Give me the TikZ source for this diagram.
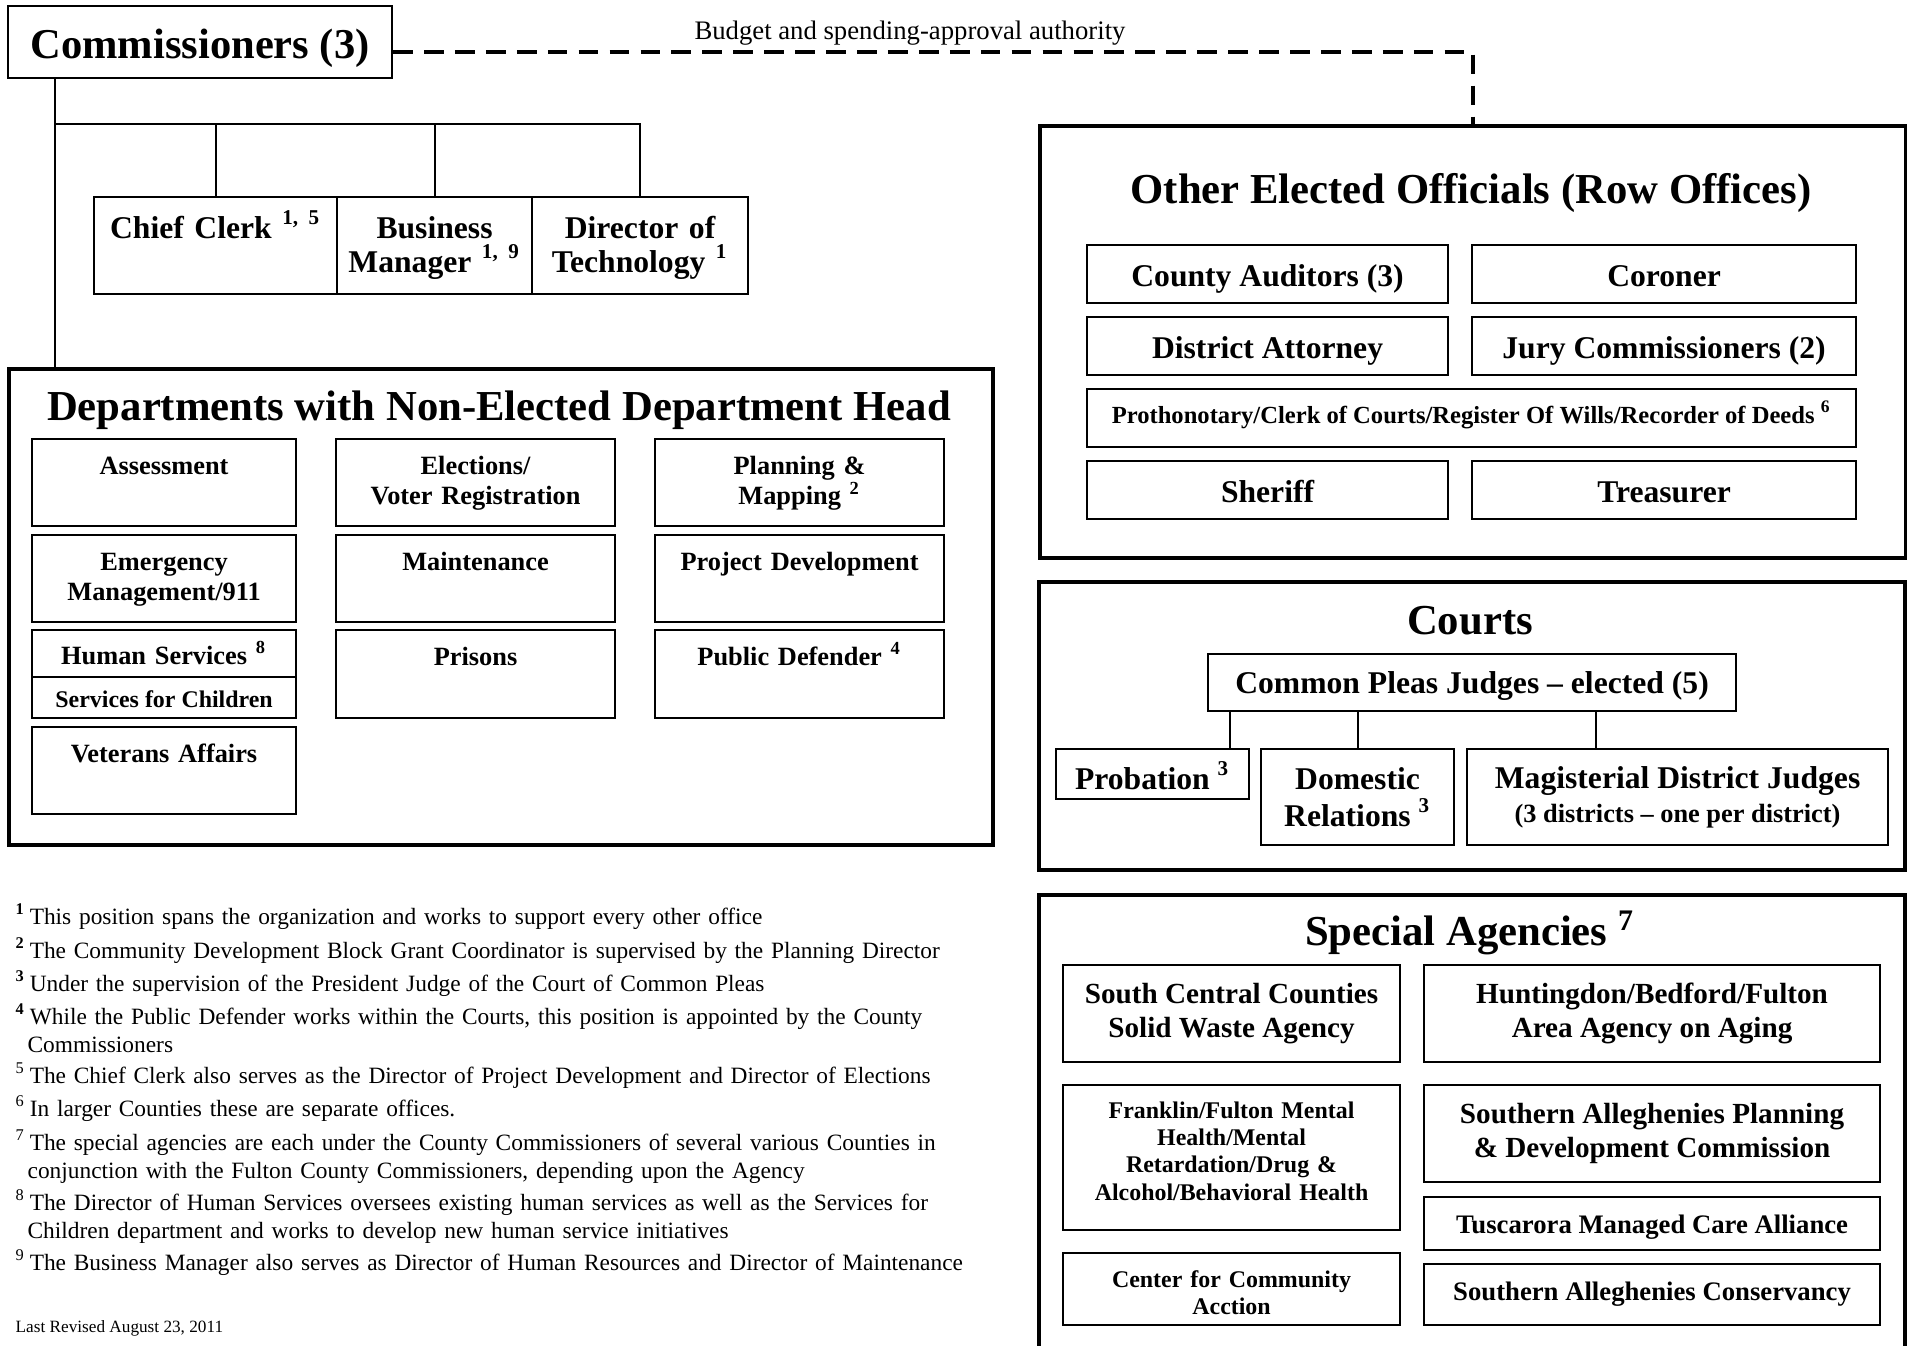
\documentclass[tikz,border=0pt]{standalone}
\usepackage{fontspec}
\setmainfont{Liberation Serif}

\tikzset{
  box/.style={draw, line width=0.6pt, inner sep=0pt, align=center, anchor=north west},
  group/.style={draw, line width=1.1pt, inner sep=0pt, anchor=north west},
  grouptitle/.style={inner sep=0pt, anchor=base, font=\fontsize{12.15}{14}\selectfont\bfseries},
  staffbox/.style={box, text width=#1, text height=0.41cm, text depth=0.56cm, font=\fontsize{9}{9.7}\selectfont\bfseries},
  deptbox/.style={box, text width=#1, text height=0.35cm, text depth=0.52cm, font=\fontsize{7.5}{8.8}\selectfont\bfseries},
  office/.style={box, text height=0.41cm, text depth=0.17cm, font=\fontsize{9}{10}\selectfont\bfseries},
  agency/.style={box, font=\fontsize{8.3}{9.7}\selectfont\bfseries},
  link/.style={line width=0.6pt},
  authority/.style={line width=1pt, dash pattern=on 5.6pt off 3.2pt},
  note/.style={inner sep=0pt, anchor=base west, text width=12cm, align=left, font=\fontsize{6.65}{7.8}\selectfont},
}
\newcommand{\fnmark}[1]{\makebox[4pt][l]{\textsuperscript{#1}}}

\begin{document}
\begin{tikzpicture}[x=1cm,y=-1cm]
\useasboundingbox (0,0) rectangle (19.07,13.46);

% commissioners and staff
\node[box, minimum width=3.84cm, text height=0.52cm, text depth=0.20cm, font=\fontsize{12.1}{14}\selectfont\bfseries] (comm) at (0.07,0.05) {Commissioners (3)};

\node[staffbox=2.43cm] (clerk) at (0.93,1.96) {Chief Clerk \textsuperscript{1, 5}};
\node[staffbox=1.95cm] (biz) at (3.36,1.96) {Business\\Manager \textsuperscript{1, 9}};
\node[staffbox=2.16cm] (tech) at (5.31,1.96) {Director of\\Technology \textsuperscript{1}};

% group frames
\node[group, minimum width=9.84cm, minimum height=4.76cm] (dept) at (0.07,3.67) {};
\node[group, minimum width=8.66cm, minimum height=4.32cm] (other) at (10.38,1.24) {};
\node[group, minimum width=8.66cm, minimum height=2.88cm] (courts) at (10.37,5.80) {};
\node[group, minimum width=8.66cm, minimum height=4.80cm] (special) at (10.37,8.93) {};

\node[grouptitle] (depttitle) at (4.99,4.21) {Departments with Non-Elected Department Head};
\node[grouptitle] (othertitle) at (14.71,2.04) {Other Elected Officials (Row Offices)};
\node[grouptitle] (courtstitle) at (14.70,6.35) {Courts};
\node[grouptitle] (spectitle) at (14.70,9.46) {Special Agencies \textsuperscript{7}};

% departments
\node[deptbox=2.64cm] (assess) at (0.31,4.38) {Assessment};
\node[deptbox=2.79cm] (elect) at (3.35,4.38) {Elections/\\Voter Registration};
\node[deptbox=2.89cm] (plan) at (6.54,4.38) {Planning \&\\Mapping \textsuperscript{2}};
\node[deptbox=2.64cm] (ema) at (0.31,5.34) {Emergency\\Management/911};
\node[deptbox=2.79cm] (maint) at (3.35,5.34) {Maintenance};
\node[deptbox=2.89cm] (projdev) at (6.54,5.34) {Project Development};
\node[deptbox=2.64cm, text height=0.34cm, text depth=0.13cm] (humsvc) at (0.31,6.29) {Human Services \textsuperscript{8}};
\node[box, minimum width=2.64cm, text height=0.30cm, text depth=0.11cm, font=\fontsize{6.8}{8}\selectfont\bfseries] (children) at (0.31,6.76) {Services for Children};
\node[deptbox=2.79cm, text depth=0.53cm] (prisons) at (3.35,6.29) {Prisons};
\node[deptbox=2.89cm, text depth=0.53cm] (pubdef) at (6.54,6.29) {Public Defender \textsuperscript{4}};
\node[deptbox=2.64cm] (vets) at (0.31,7.26) {Veterans Affairs};

% row offices
\node[office, minimum width=3.61cm] (aud) at (10.86,2.44) {County Auditors (3)};
\node[office, minimum width=3.84cm] (coroner) at (14.71,2.44) {Coroner};
\node[office, minimum width=3.61cm] (da) at (10.86,3.16) {District Attorney};
\node[office, minimum width=3.84cm] (jury) at (14.71,3.16) {Jury Commissioners (2)};
\node[office, minimum width=7.69cm, text height=0.34cm, text depth=0.24cm, font=\fontsize{7}{8}\selectfont\bfseries] (proth) at (10.86,3.88) {Prothonotary/Clerk of Courts/Register Of Wills/Recorder of Deeds \textsuperscript{6}};
\node[office, minimum width=3.61cm] (sheriff) at (10.86,4.60) {Sheriff};
\node[office, minimum width=3.84cm] (treas) at (14.71,4.60) {Treasurer};

% courts
\node[office, minimum width=5.28cm, text height=0.39cm, text depth=0.18cm] (pleas) at (12.07,6.53) {Common Pleas Judges -- elected (5)};
\node[office, minimum width=1.93cm, text height=0.40cm, text depth=0.10cm] (prob) at (10.55,7.48) {Probation \textsuperscript{3}};
\node[box, minimum width=1.93cm, minimum height=0.96cm, font=\fontsize{9}{10.5}\selectfont\bfseries] (domrel) at (12.60,7.48) {Domestic\\Relations \textsuperscript{3}};
\node[box, minimum width=4.21cm, minimum height=0.96cm, font=\fontsize{9}{9.7}\selectfont\bfseries] (mag) at (14.66,7.48) {Magisterial District Judges\\{\fontsize{7.5}{9}\selectfont(3 districts -- one per district)}};

% special agencies
\node[agency, minimum width=3.37cm, minimum height=0.97cm] (waste) at (10.62,9.64) {South Central Counties\\Solid Waste Agency};
\node[agency, minimum width=4.56cm, minimum height=0.97cm] (aging) at (14.23,9.64) {Huntingdon/Bedford/Fulton\\Area Agency on Aging};
\node[agency, text width=3.37cm, text height=0.33cm, text depth=1.12cm, font=\fontsize{6.8}{7.8}\selectfont\bfseries] (mental) at (10.62,10.84) {Franklin/Fulton Mental\\Health/Mental\\Retardation/Drug \&\\Alcohol/Behavioral Health};
\node[agency, minimum width=4.56cm, minimum height=0.97cm] (sap) at (14.23,10.84) {Southern Alleghenies Planning\\\& Development Commission};
\node[agency, minimum width=4.56cm, text height=0.36cm, text depth=0.17cm, font=\fontsize{7.6}{9}\selectfont\bfseries] (tusc) at (14.23,11.96) {Tuscarora Managed Care Alliance};
\node[agency, text width=3.37cm, text height=0.34cm, text depth=0.38cm, font=\fontsize{6.8}{7.7}\selectfont\bfseries] (cca) at (10.62,12.52) {Center for Community\\Acction};
\node[agency, minimum width=4.56cm, text height=0.36cm, text depth=0.25cm, font=\fontsize{7.6}{9}\selectfont\bfseries] (sac) at (14.23,12.63) {Southern Alleghenies Conservancy};

% connectors
\coordinate (spine) at (0.55,0);
\coordinate (bar) at (0,1.24);
\draw[link] (comm.south -| spine) -- (dept.north -| spine);
\draw[link] (spine |- bar) -- (tech.north |- bar) -- (tech.north);
\foreach \n in {clerk,biz}
  \draw[link] (\n.north) -- (\n.north |- bar);

\coordinate (p1) at ([xshift=0.23cm]pleas.south west);
\coordinate (p3) at ([xshift=1.30cm]mag.north west);
\draw[link] (p1) -- (p1 |- prob.north);
\draw[link] (domrel.north) -- (domrel.north |- pleas.south);
\draw[link] (p3) -- (p3 |- pleas.south);

% budget authority
\coordinate (auth) at (0,0.52);
\draw[authority] (comm.east |- auth) -| (other.north);
\node[inner sep=0pt, anchor=base, font=\fontsize{7.6}{9}\selectfont] (budget) at (9.10,0.40) {Budget and spending-approval authority};

% footnotes
\node[note] (fn1) at (0.15,9.25) {\fnmark{\bfseries 1}This position spans the organization and works to support every other office};
\node[note] (fn2) at (0.15,9.59) {\fnmark{\bfseries 2}The Community Development Block Grant Coordinator is supervised by the Planning Director};
\node[note] (fn3) at (0.15,9.92) {\fnmark{\bfseries 3}Under the supervision of the President Judge of the Court of Common Pleas};
\node[note] (fn4) at (0.15,10.25) {\fnmark{\bfseries 4}While the Public Defender works within the Courts, this position is appointed by the County\newline\hspace*{3.4pt}Commissioners};
\node[note] (fn5) at (0.15,10.84) {\fnmark{5}The Chief Clerk also serves as the Director of Project Development and Director of Elections};
\node[note] (fn6) at (0.15,11.17) {\fnmark{6}In larger Counties these are separate offices.};
\node[note] (fn7) at (0.15,11.51) {\fnmark{7}The special agencies are each under the County Commissioners of several various Counties in\newline\hspace*{3.4pt}conjunction with the Fulton County Commissioners, depending upon the Agency};
\node[note] (fn8) at (0.15,12.11) {\fnmark{8}The Director of Human Services oversees existing human services as well as the Services for\newline\hspace*{3.4pt}Children department and works to develop new human service initiatives};
\node[note] (fn9) at (0.15,12.71) {\fnmark{9}The Business Manager also serves as Director of Human Resources and Director of Maintenance};
\node[inner sep=0pt, anchor=base west, font=\fontsize{4.9}{6}\selectfont] (revised) at (0.15,13.33) {Last Revised August 23, 2011};
\end{tikzpicture}
\end{document}
